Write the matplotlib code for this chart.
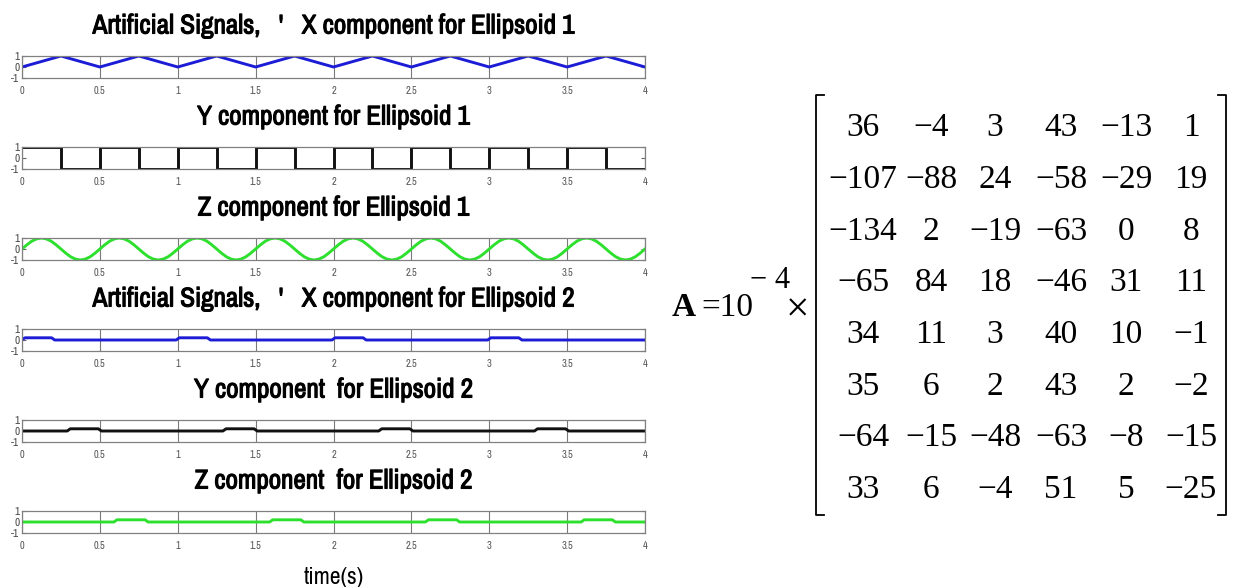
import matplotlib
matplotlib.use("Agg")
import matplotlib.pyplot as plt
import matplotlib.patheffects as pe
import numpy as np

W, H, DPI = 1233, 587, 100

# ---- signals ----
titles = [
    "Artificial Signals,   '   X component for Ellipsoid 1",
    "Y component for Ellipsoid 1",
    "Z component for Ellipsoid 1",
    "Artificial Signals,   '   X component for Ellipsoid 2",
    "Y component  for Ellipsoid 2",
    "Z component  for Ellipsoid 2",
]
colors = ["#1c1cd6", "#111111", "#2ee02e", "#1c1cd6", "#111111", "#2ee02e"]

x1_t = [0, 0.25, 0.5, 0.75, 1, 1.25, 1.5, 1.75, 2, 2.25, 2.5, 2.75, 3, 3.25, 3.5, 3.75, 4]
x1_v = [0, 1, 0, 1, 0, 1, 0, 1, 0, 1, 0, 1, 0, 1, 0, 1, 0]

y1_t = [0, 0.25, 0.5, 0.75, 1, 1.25, 1.5, 1.75, 2, 2.25, 2.5, 2.75, 3, 3.25, 3.5, 3.75, 4]
y1_v = [1, -1, 1, -1, 1, -1, 1, -1, 1, -1, 1, -1, 1, -1, 1, -1, -1]

# one period (0.5 s) of the sine, 16 samples
z1_cycle = [0, 0.38, 0.71, 0.92, 1, 0.92, 0.71, 0.38,
            0, -0.38, -0.71, -0.92, -1, -0.92, -0.71, -0.38]
z1_v = list(np.tile(z1_cycle, 8)) + [0]
z1_t = np.linspace(0, 4, len(z1_v))

x2_t = [0, 0.02, 0.19, 0.21, 0.99, 1.01, 1.19, 1.21, 1.99, 2.01, 2.19, 2.21,
        2.99, 3.01, 3.19, 3.21, 4.0]
x2_v = [0.05, 0.2, 0.2, 0, 0, 0.2, 0.2, 0, 0, 0.2, 0.2, 0, 0, 0.2, 0.2, 0, 0]

y2_t = [0, 0.29, 0.31, 0.49, 0.51, 1.29, 1.31, 1.49, 1.51, 2.29, 2.31, 2.49, 2.51,
        3.29, 3.31, 3.49, 3.51, 4.0]
y2_v = [0, 0, 0.2, 0.2, 0, 0, 0.2, 0.2, 0, 0, 0.2, 0.2, 0, 0, 0.2, 0.2, 0, 0]

z2_t = [0, 0.59, 0.61, 0.79, 0.81, 1.59, 1.61, 1.79, 1.81, 2.59, 2.61, 2.79, 2.81,
        3.59, 3.61, 3.79, 3.81, 4.0]
z2_v = [0, 0, 0.2, 0.2, 0, 0, 0.2, 0.2, 0, 0, 0.2, 0.2, 0, 0, 0.2, 0.2, 0, 0]

series = [(x1_t, x1_v), (y1_t, y1_v), (z1_t, z1_v), (x2_t, x2_v), (y2_t, y2_v), (z2_t, z2_v)]
step_series = {1}

x_ticks = [0, 0.5, 1, 1.5, 2, 2.5, 3, 3.5, 4]
x_tick_labels = ["0", "0.5", "1", "1.5", "2", "2.5", "3", "3.5", "4"]
y_ticks = [-1, 0, 1]
y_tick_labels = ["-1", "0", "1"]

# ---- mixing matrix ----
matrix = [
    ["36", "\u22124", "3", "43", "\u221213", "1"],
    ["\u2212107", "\u221288", "24", "\u221258", "\u221229", "19"],
    ["\u2212134", "2", "\u221219", "\u221263", "0", "8"],
    ["\u221265", "84", "18", "\u221246", "31", "11"],
    ["34", "11", "3", "40", "10", "\u22121"],
    ["35", "6", "2", "43", "2", "\u22122"],
    ["\u221264", "\u221215", "\u221248", "\u221263", "\u22128", "\u221215"],
    ["33", "6", "\u22124", "51", "5", "\u221225"],
]

narrow = ["Archivo Narrow", "DejaVu Sans"]
serif = ["Liberation Serif", "Tinos", "DejaVu Serif"]
bold_fx = [pe.withStroke(linewidth=0.8, foreground="black")]

fig = plt.figure(figsize=(W / DPI, H / DPI), dpi=DPI)

left_px, right_px = 22, 645
ax_h = 22
for i, ((t, v), title, color) in enumerate(zip(series, titles, colors)):
    top = 56 + 91 * i
    ax = fig.add_axes([left_px / W, 1 - (top + ax_h) / H, (right_px - left_px) / W, ax_h / H])
    if i in step_series:
        ax.plot(t, v, color=color, lw=2.1, drawstyle="steps-post")
    else:
        ax.plot(t, v, color=color, lw=2.1)
    ax.set_xlim(0, 4)
    ax.set_ylim(-1, 1)
    ax.set_xticks(x_ticks)
    ax.set_xticklabels(x_tick_labels, family=narrow, fontsize=7.5, color="#555555")
    ax.set_yticks(y_ticks)
    ax.set_yticklabels(y_tick_labels, family=narrow, fontsize=8, color="#444444")
    ax.tick_params(axis="x", direction="in", length=0, pad=6)
    ax.tick_params(axis="y", direction="in", length=3, pad=2, right=True, width=0.8, color="#666666")
    ax.grid(axis="x", color="#7a7a7a", lw=0.8)
    for s in ax.spines.values():
        s.set_color("#808080")
        s.set_linewidth(0.9)
    fig.text((left_px + right_px) / 2 / W, 1 - (top - 30) / H, title,
             family=narrow, fontsize=19.5, ha="center", va="center", path_effects=bold_fx)

fig.text((left_px + right_px) / 2 / W, 1 - 577 / H, "time(s)",
         family=narrow, fontsize=17, ha="center", va="center")

# ---- right-hand matrix, drawn in pixel coordinates ----
ov = fig.add_axes([0, 0, 1, 1])
ov.set_xlim(0, W)
ov.set_ylim(H, 0)
ov.axis("off")

col_x = [863, 931, 995, 1061, 1126, 1191]
row_y = [128 + 51.7 * r for r in range(len(matrix))]
for r, row in enumerate(matrix):
    for c, val in enumerate(row):
        ov.text(col_x[c], row_y[r], val, family=serif, fontsize=24,
                ha="center", va="center")

ov.text(672, 308, "A", family=serif, fontsize=24, fontweight="bold", ha="left", va="center")
ov.text(701, 308, "=10", family=serif, fontsize=24, ha="left", va="center")
ov.text(750, 280, "\u2212 4", family=serif, fontsize=22, ha="left", va="center")
ov.text(797, 311, "\u00d7", family=serif, fontsize=30, ha="center", va="center")

b_top, b_bot = 95, 515
ov.plot([824, 816, 816, 824], [b_top, b_top, b_bot, b_bot], color="black", lw=1.3)
ov.plot([1218, 1226, 1226, 1218], [b_top, b_top, b_bot, b_bot], color="black", lw=1.3)

fig.savefig("out.png", dpi=DPI)
